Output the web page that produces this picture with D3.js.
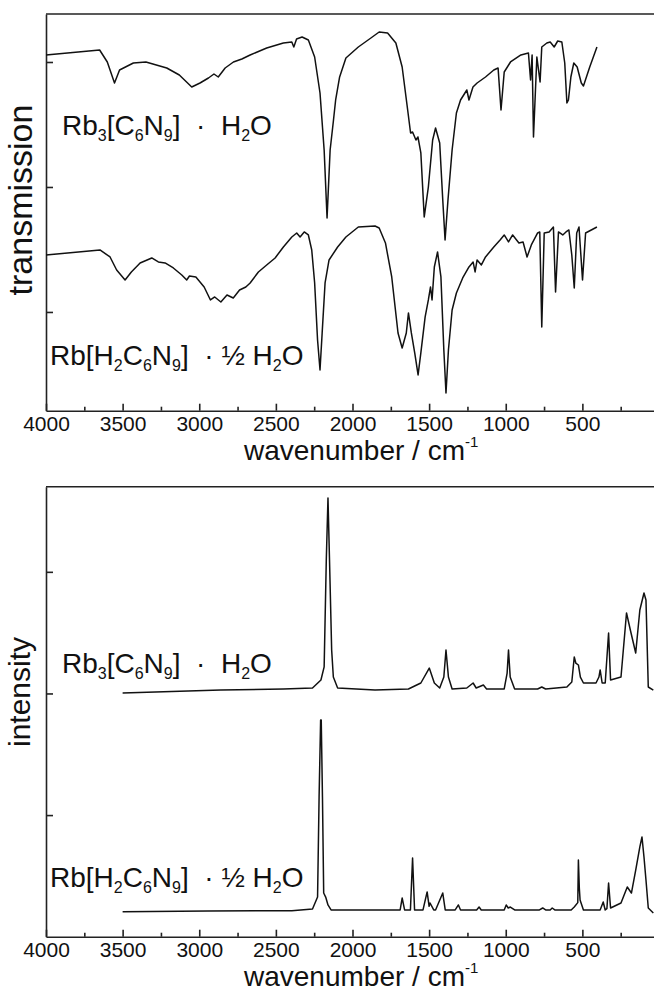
<!DOCTYPE html>
<html>
<head>
<meta charset="utf-8">
<script src="https://cdn.jsdelivr.net/npm/d3@7"></script>
<style>
  body { margin: 0; background: #fff; }
  svg { display: block; }
  text { font-family: "Liberation Sans", Arial, sans-serif; fill: #111; }
</style>
</head>
<body>
<div id="chart"></div>
<script>
// IR spectra, [wavenumber, transmission (a.u.)]
const irRb3 = [
  [4000, 305.6], [3650, 309.6], [3600, 300], [3553, 283.2], [3520, 293.6], [3430, 299.2],
  [3348, 300], [3212, 295.2], [3130, 289.6], [3049, 280], [2995, 283.2], [2940, 287.2],
  [2904, 290.4], [2876, 288], [2831, 295.2], [2777, 300], [2722, 302.4], [2668, 305.6],
  [2560, 311.2], [2451, 315.2], [2396, 316], [2383, 312], [2365, 318.4], [2329, 320],
  [2288, 317.6], [2247, 304], [2212, 275.2], [2185, 229.6], [2166, 175.2], [2146, 229.6],
  [2124, 253.6], [2110, 269.6], [2084, 288], [2043, 303.2], [1962, 312], [1880, 319.2],
  [1826, 324], [1771, 323.2], [1717, 315.2], [1676, 296], [1640, 261.6], [1621, 243.2],
  [1608, 244], [1586, 237.6], [1573, 240], [1554, 227.2], [1532, 176], [1505, 200],
  [1477, 237.6], [1458, 247.2], [1431, 235.2], [1411, 189.6], [1396, 157.6], [1377, 189.6],
  [1350, 229.6], [1322, 259.2], [1295, 269.6], [1254, 277.6], [1240, 269.6], [1214, 280],
  [1187, 283.2], [1132, 288], [1078, 293.6], [1050, 295.2], [1031, 261.6], [1010, 292],
  [969, 300], [901, 305.6], [852, 307.2], [838, 285.6], [828, 305.6], [819, 240],
  [797, 304], [776, 284], [765, 312], [732, 315.2], [710, 316], [684, 312], [661, 316.8],
  [634, 316], [615, 299.2], [601, 267.2], [591, 269.6], [575, 288], [556, 299.2],
  [534, 296], [507, 283.2], [493, 280.8], [452, 296], [405, 312]
];
const irRbH2 = [
  [4000, 145.6], [3648, 149.6], [3582, 144], [3539, 133.6], [3484, 125.6], [3443, 132],
  [3386, 139.2], [3310, 143.2], [3267, 140], [3223, 139.2], [3169, 135.2], [3114, 129.6],
  [3082, 125.6], [3064, 128.8], [3022, 128], [2968, 120], [2927, 109.6], [2899, 112],
  [2859, 108], [2819, 113.6], [2778, 111.2], [2737, 117.6], [2696, 120], [2668, 123.2],
  [2614, 132], [2560, 137.6], [2505, 143.2], [2451, 152], [2396, 160], [2364, 163.2],
  [2342, 160], [2315, 164], [2288, 161.6], [2266, 149.6], [2247, 123.2], [2228, 77.6],
  [2212, 53.6], [2198, 83.2], [2179, 123.2], [2153, 141.6], [2097, 152], [2043, 160],
  [1962, 168], [1853, 168.8], [1826, 167.2], [1785, 155.2], [1744, 128], [1703, 83.2],
  [1676, 71.2], [1649, 83.2], [1635, 99.2], [1616, 83.2], [1594, 67.2], [1572, 49.6],
  [1554, 67.2], [1526, 96], [1505, 109.6], [1491, 120], [1481, 109.6], [1466, 136],
  [1445, 148], [1423, 128], [1404, 69.6], [1390, 35.2], [1374, 69.6], [1350, 101.6],
  [1322, 115.2], [1281, 127.2], [1240, 136], [1213, 140], [1200, 132], [1187, 141.6],
  [1159, 137.6], [1132, 144], [1078, 152], [1037, 157.6], [1010, 161.6], [982, 156],
  [955, 161.6], [914, 155.2], [887, 156], [861, 144], [833, 153.6], [792, 163.2],
  [778, 164], [765, 88], [749, 163.2], [717, 164], [689, 168], [675, 116], [656, 164],
  [628, 161.6], [607, 164], [588, 165.6], [569, 145.6], [553, 119.2], [537, 163.2],
  [522, 168], [499, 125.6], [479, 163.2], [405, 168]
];

// Raman spectra, [wavenumber, intensity (a.u.)]
const ramanRb3 = [
  [3500, 200.4], [2859, 202.8], [2451, 203.7], [2261, 204.5], [2206, 211.1], [2185, 221.8],
  [2171, 309.7], [2160, 360.7], [2150, 309.7], [2136, 235.7], [2125, 213.5], [2097, 204.5],
  [1853, 202.8], [1635, 203.7], [1554, 208.6], [1499, 220.9], [1466, 208.6], [1431, 204.5],
  [1404, 213.5], [1390, 235.7], [1374, 213.5], [1350, 203.7], [1254, 204.5], [1213, 208.6],
  [1193, 204.5], [1146, 207], [1125, 203.7], [1010, 203.7], [991, 216.8], [982, 235.7],
  [971, 213.5], [942, 203.7], [792, 203.7], [765, 205.3], [740, 203.7], [601, 205.3],
  [569, 209.4], [553, 230], [543, 225], [526, 223.4], [513, 213.5], [493, 208.6],
  [411, 208.6], [392, 213.5], [384, 219.3], [371, 208.6], [351, 208.6], [329, 249.7],
  [316, 211.1], [248, 213.5], [212, 266.2], [187, 252.2], [152, 233.3], [125, 268.6],
  [98, 282.6], [85, 276.8], [70, 205.3], [37, 202.8]
];
const ramanRbH2 = [
  [3500, 20.6], [2943, 21.1], [2396, 21.4], [2261, 22.8], [2228, 32.6], [2218, 114.9],
  [2208, 178.2], [2204, 178.2], [2196, 114.9], [2188, 35.9], [2175, 32.6], [2160, 26.1],
  [2140, 22], [1689, 22], [1676, 31.8], [1660, 22], [1622, 22], [1608, 64.7], [1595, 22],
  [1540, 22], [1513, 36.8], [1500, 25], [1494, 27.7], [1470, 22], [1458, 22], [1411, 35.9],
  [1395, 22], [1330, 22], [1309, 26.1], [1295, 22], [1190, 22], [1174, 24.4], [1160, 22],
  [1010, 22], [997, 26.1], [984, 23.6], [970, 24.4], [942, 22], [780, 22], [759, 23.6],
  [740, 22], [710, 22], [697, 23.6], [680, 22], [573, 22], [553, 24.4], [530, 28],
  [526, 63.1], [520, 40], [515, 30.2], [493, 22], [384, 22], [364, 28.5], [351, 22],
  [340, 23], [329, 44.2], [316, 23.6], [248, 27.7], [207, 40.9], [180, 35.9], [152, 54.8],
  [125, 73.8], [111, 82], [98, 65.5], [85, 46.6], [70, 23.6], [37, 19.5]
];

const xMajor = [4000, 3500, 3000, 2500, 2000, 1500, 1000, 500, 0];
const xMinor = [3750, 3250, 2750, 2250, 1750, 1250, 750, 250];
const yTicks = [100, 200, 300];

// label pieces: [text, isSubscript]
const labelRb3 = [['Rb'], ['3', 1], ['[C'], ['6', 1], ['N'], ['9', 1], [']  ·  H'], ['2', 1], ['O']];
const labelRbH2 = [['Rb[H'], ['2', 1], ['C'], ['6', 1], ['N'], ['9', 1], [']  · ½ H'], ['2', 1], ['O']];

const W = 654, H = 993;
const svg = d3.select('#chart').append('svg').attr('width', W).attr('height', H);
svg.append('rect').attr('width', W).attr('height', H).attr('fill', '#fff');

const x = d3.scaleLinear().domain([4000, 0]).range([46, 659]);

function label(g, px, py, parts) {
  const t = g.append('text').attr('x', px).attr('y', py)
    .style('font-size', '28px').style('white-space', 'pre');
  let down = false;
  parts.forEach(([s, sub]) => {
    const ts = t.append('tspan').text(s);
    if (sub && !down) { ts.attr('dy', 6).style('font-size', '16px'); down = true; }
    else if (!sub && down) { ts.attr('dy', -6); down = false; }
  });
}

function panel(cfg) {
  const y = d3.scaleLinear().domain(cfg.yDomain).range([cfg.bottom, cfg.top]);
  const g = svg.append('g');

  // frame: top line
  g.append('line').attr('x1', x(4000)).attr('x2', x(0))
    .attr('y1', cfg.top).attr('y2', cfg.top)
    .attr('stroke', '#222').attr('stroke-width', 1.6);

  const ax = g.append('g').attr('transform', `translate(0,${cfg.bottom})`)
    .call(d3.axisBottom(x).tickValues(xMajor).tickSizeInner(-7).tickSizeOuter(0)
      .tickPadding(cfg.tickPad).tickFormat(d => d === 0 ? '' : d));
  g.append('g').attr('transform', `translate(0,${cfg.bottom})`)
    .call(d3.axisBottom(x).tickValues(xMinor).tickSizeInner(-4).tickSizeOuter(0).tickFormat(''))
    .select('.domain').remove();
  ax.selectAll('text').style('font-size', '21px')
    .style('font-family', '"Liberation Sans", Arial, sans-serif').attr('fill', '#111');

  g.append('g').attr('transform', `translate(${x(4000)},0)`)
    .call(d3.axisLeft(y).tickValues(yTicks).tickSizeInner(-7).tickSizeOuter(0).tickFormat(''));

  g.selectAll('.domain, .tick line').attr('stroke', '#222').attr('stroke-width', 1.6);

  const line = d3.line().x(d => x(d[0])).y(d => y(d[1]));
  cfg.series.forEach(s => {
    g.append('path').datum(s).attr('d', line)
      .attr('fill', 'none').attr('stroke', '#111').attr('stroke-width', 1.5)
      .attr('stroke-linejoin', 'round');
  });

  cfg.labels.forEach(l => label(g, l.x, l.y, l.parts));

  // axis titles
  const xt = g.append('text').attr('x', 244).attr('y', cfg.bottom + cfg.xTitleGap).style('font-size', '28px');
  xt.append('tspan').text('wavenumber / cm');
  xt.append('tspan').text('-1').attr('dy', -13).style('font-size', '15px');

  g.append('text').attr('transform', `translate(${cfg.yTitleX},${cfg.yTitleY}) rotate(-90)`)
    .attr('text-anchor', 'middle').style('font-size', cfg.yTitleSize + 'px').text(cfg.yTitle);
}

panel({
  top: 14, bottom: 410.7, yDomain: [21, 338.4], tickPad: 5,
  yTitle: 'transmission', yTitleX: 32, yTitleY: 200, yTitleSize: 34, xTitleGap: 49.5,
  series: [irRb3, irRbH2],
  labels: [{ x: 62, y: 135, parts: labelRb3 }, { x: 50, y: 365, parts: labelRbH2 }]
});

panel({
  top: 486.7, bottom: 936.7, yDomain: [0, 370], tickPad: 5,
  yTitle: 'intensity', yTitleX: 30, yTitleY: 692, yTitleSize: 30, xTitleGap: 49.5,
  series: [ramanRb3, ramanRbH2],
  labels: [{ x: 62, y: 673, parts: labelRb3 }, { x: 50, y: 887, parts: labelRbH2 }]
});
</script>
</body>
</html>
